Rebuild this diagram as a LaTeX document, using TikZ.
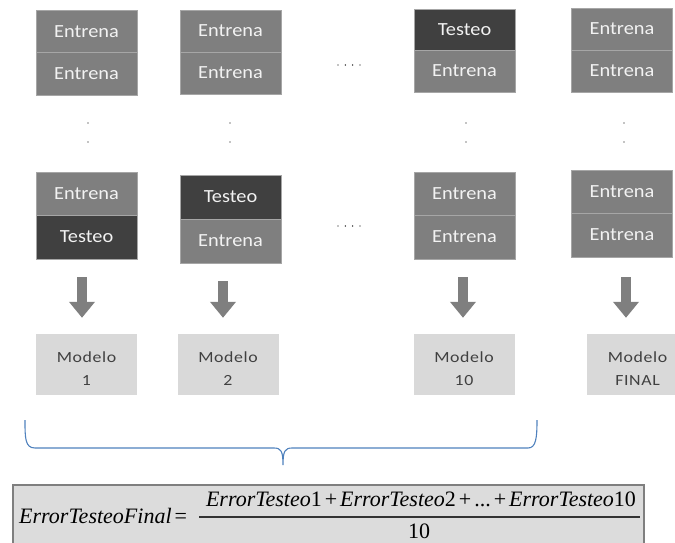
\documentclass[tikz,border=0pt]{standalone}
\usepackage{fontspec}
\usetikzlibrary{arrows.meta,calc}
\newfontfamily\cellfont[FakeStretch=1.1]{Carlito}
\newfontfamily\modelfont[FakeStretch=1.15,LetterSpace=4]{Carlito}
\newfontfamily\eqfont{Liberation Serif}
\definecolor{trainfill}{HTML}{7F7F7F}
\definecolor{testfill}{HTML}{404040}
\definecolor{cellline}{HTML}{A6A6A6}
\definecolor{modelfill}{HTML}{D9D9D9}
\definecolor{modeltext}{HTML}{404040}
\definecolor{bracecol}{HTML}{4F81BD}
\definecolor{eqfill}{HTML}{DCDCDC}
\definecolor{eqline}{HTML}{7F7F7F}
\newcommand{\pl}{\hspace{3pt}+\hspace{3pt}}
\newcommand{\modstrut}{\rule{0pt}{19pt}}
\tikzset{
  cell/.style={rectangle, minimum width=101pt, inner sep=0pt, draw=cellline,
    line width=0.6pt, text=white!95!black,
    font=\cellfont\fontsize{18.5}{20}\selectfont},
  train/.style={cell, fill=trainfill},
  testcell/.style={cell, fill=testfill},
  model/.style={rectangle, fill=modelfill, minimum width=101pt, minimum height=61pt,
    inner sep=0pt, align=center, text=modeltext,
    font=\modelfont\fontsize{15.5}{23}\selectfont},
  bigarrow/.style={draw=trainfill, line width=10pt,
    -{Triangle[width=25pt,length=16pt]}, shorten <=18pt, shorten >=16pt},
  dotmark/.style={fill=black, circle, inner sep=0pt, minimum size=1.4pt},
  eqtext/.style={inner sep=0pt, font=\eqfont\fontsize{22}{24}\selectfont},
}
\begin{document}
\begin{tikzpicture}[x=1pt, y=-1pt]
\useasboundingbox (0,0) rectangle (675,543);

% first fold stack (rows 1..2 and last two rows)
\node[train, minimum height=42.5pt] (t1a) at (86.5,31.25) {Entrena};
\node[train, minimum height=42.5pt] (t1b) at (86.5,73.75) {Entrena};
\node[train, minimum height=43pt] (b1a) at (86.5,193.5) {Entrena};
\node[testcell, minimum height=44pt] (b1b) at (86.5,237) {Testeo};

% second fold
\node[train, minimum height=42pt] (t2a) at (230.5,31) {Entrena};
\node[train, minimum height=42pt] (t2b) at (230.5,73) {Entrena};
\node[testcell, minimum height=44pt] (b2a) at (230.5,197) {Testeo};
\node[train, minimum height=44pt] (b2b) at (230.5,241) {Entrena};

% tenth fold
\node[testcell, minimum height=41pt] (t3a) at (464.5,29.5) {Testeo};
\node[train, minimum height=42pt] (t3b) at (464.5,71) {Entrena};
\node[train, minimum height=43pt] (b3a) at (464.5,193.5) {Entrena};
\node[train, minimum height=44pt] (b3b) at (464.5,237) {Entrena};

% final model: all data used for training
\node[train, minimum height=42pt] (t4a) at (622,29) {Entrena};
\node[train, minimum height=42pt] (t4b) at (622,71) {Entrena};
\node[train, minimum height=43pt] (b4a) at (622,191.5) {Entrena};
\node[train, minimum height=44pt] (b4b) at (622,235) {Entrena};

% vertical ellipsis between rows
\foreach \cx/\nm in {88/v1, 230/v2, 466/v3, 624/v4} {
  \node[dotmark] (\nm a) at (\cx,123) {};
  \node[dotmark] (\nm b) at (\cx,142) {};
}
% horizontal ellipsis between columns
\foreach \cx [count=\k] in {338,345.3,352.6,360} {
  \node[dotmark] (hu\k) at (\cx,65) {};
  \node[dotmark] (hl\k) at (\cx,226) {};
}

% models
\node[model] (m1) at (86.5,364.5) {\modstrut Modelo\\1};
\node[model] (m2) at (228,364.5) {\modstrut Modelo\\2};
\node[model] (m3) at (464,364.5) {\modstrut Modelo\\10};
\node[model] (m4) at (637.5,364.5) {\modstrut Modelo\\FINAL};

% arrows from each stack to its model
\coordinate (ax1) at (82,0);
\coordinate (ax2) at (223,0);
\coordinate (ax3) at (463,0);
\coordinate (ax4) at (626,0);
\draw[bigarrow] (b1b.south -| ax1) -- (m1.north -| ax1);
\draw[bigarrow] (b2b.south -| ax2) -- (m2.north -| ax2);
\draw[bigarrow] (b3b.south -| ax3) -- (m3.north -| ax3);
\draw[bigarrow, shorten <=20pt] (b4b.south -| ax4) -- (m4.north -| ax4);

% brace grouping the ten fold models
\draw[bracecol, line width=1.1pt]
  (25,420) .. controls (25,438) and (25,448) .. (35,448) -- (274,448)
  .. controls (281,448) and (283,451) .. (283,465)
  .. controls (283,451) and (285,448) .. (292,448) -- (528,448)
  .. controls (536,448) and (537,438) .. (537,420);

% final error formula
\node[rectangle, fill=eqfill, draw=eqline, line width=1.5pt,
  minimum width=631pt, minimum height=65pt, inner sep=0pt] (eqbox) at (328.5,517.5) {};
\node[eqtext, anchor=base west] (lhs) at (19,523)
  {\itshape ErrorTesteoFinal\upshape\hspace{3pt}=};
\node[eqtext, anchor=base] (num) at (421,506)
  {\itshape ErrorTesteo\upshape 1\pl\itshape ErrorTesteo\upshape 2\pl...\pl\itshape ErrorTesteo\upshape 10};
\coordinate (fracL) at (199,517);
\coordinate (fracR) at (640,517);
\draw[line width=1.2pt, black!80] (fracL) -- (fracR);
\node[eqtext, anchor=base] (den) at (419,538) {10};
\end{tikzpicture}
\end{document}
